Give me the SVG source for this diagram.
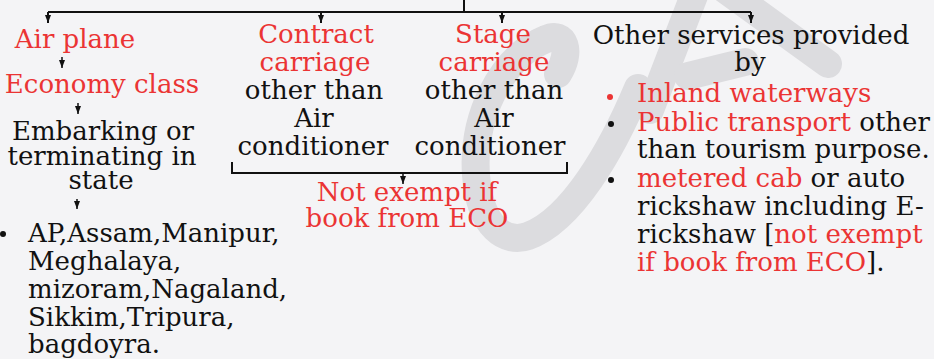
<svg xmlns="http://www.w3.org/2000/svg" width="934" height="359" viewBox="0 0 934 359">
<style>
text { font-family: "DejaVu Serif", "Liberation Serif", serif; font-size: 26px; fill: #111; }
.r { fill: #eb3434; }
.c { text-anchor: middle; }
.ln { stroke: #111; stroke-width: 2; fill: none; }
.sm { stroke: #111; stroke-width: 1.5; fill: none; }
.wm { stroke: #dcdcdf; stroke-width: 28; fill: none; stroke-linecap: round; stroke-linejoin: round; }
</style>
<defs>
<marker id="ah" viewBox="0 0 8 6" refX="8" refY="3" markerWidth="8" markerHeight="6" markerUnits="userSpaceOnUse" orient="auto">
<path d="M0,0 L8,3 L0,6 z" fill="#111"/>
</marker>
</defs>
<rect width="934" height="359" fill="#f4f4f6"/>
<g id="watermark">
<path class="wm" d="M558 74 C572 52 565 30 546 39 C500 58 472 118 476 175 C480 228 506 244 528 236 C572 220 612 150 638 88"/>
<path class="wm" d="M650 110 L700 -20"/>
<path class="wm" stroke-width="32" d="M712 -20 L828 64"/>
<path class="wm" stroke-width="14" d="M688 76 L745 62"/>
</g>
<g id="connectors">
<path class="ln" d="M464 0 V12 M48 12 H751"/>
<path class="ln" d="M48 12 V23" marker-end="url(#ah)"/>
<path class="ln" d="M321 12 V23" marker-end="url(#ah)"/>
<path class="ln" d="M502 12 V23" marker-end="url(#ah)"/>
<path class="ln" d="M751 12 V23" marker-end="url(#ah)"/>
<path class="sm" d="M62 57 V68" marker-end="url(#ah)"/>
<path class="sm" d="M78 103 V114" marker-end="url(#ah)"/>
<path class="sm" d="M77 199 V209" marker-end="url(#ah)"/>
<path class="ln" d="M232 162 V173 H567 V162"/>
<path class="sm" d="M403 173 V184" marker-end="url(#ah)"/>
</g>
<g id="air-plane"><text class="r c" x="75" y="48">Air plane</text></g>
<g id="economy-class"><text class="r c" x="102" y="93">Economy class</text></g>
<g id="embarking">
<text class="c" x="103" y="140">Embarking or</text>
<text class="c" x="102" y="165">terminating in</text>
<text class="c" x="101" y="189">state</text>
</g>
<g id="states">
<circle cx="3" cy="234" r="3" fill="#111"/>
<text x="28" y="242">AP,Assam,Manipur,</text>
<text x="28" y="270">Meghalaya,</text>
<text x="28" y="298">mizoram,Nagaland,</text>
<text x="28" y="326">Sikkim,Tripura,</text>
<text x="28" y="353">bagdoyra.</text>
</g>
<g id="contract-carriage">
<text class="r c" x="316" y="43">Contract</text>
<text class="r c" x="315" y="71">carriage</text>
<text class="c" x="314" y="99">other than</text>
<text class="c" x="314" y="127">Air</text>
<text class="c" x="313" y="155">conditioner</text>
</g>
<g id="stage-carriage">
<text class="r c" x="493" y="43">Stage</text>
<text class="r c" x="494" y="71">carriage</text>
<text class="c" x="494" y="99">other than</text>
<text class="c" x="494" y="127">Air</text>
<text class="c" x="490" y="155">conditioner</text>
</g>
<g id="not-exempt">
<text class="r c" x="407" y="201">Not exempt if</text>
<text class="r c" x="407" y="227">book from ECO</text>
</g>
<g id="other-services">
<text class="c" x="751" y="44">Other services provided</text>
<text class="c" x="750" y="71">by</text>
<circle cx="610" cy="97" r="3" fill="#eb3434"/>
<circle cx="611" cy="124" r="3" fill="#111"/>
<circle cx="611" cy="180" r="3" fill="#111"/>
<text class="r" x="637" y="102">Inland waterways</text>
<text x="637" y="131"><tspan class="r">Public transport</tspan> other</text>
<text x="637" y="158">than tourism purpose.</text>
<text x="637" y="187"><tspan class="r">metered cab</tspan> or auto</text>
<text x="637" y="215">rickshaw including E-</text>
<text x="637" y="243">rickshaw [<tspan class="r">not exempt</tspan></text>
<text x="637" y="271"><tspan class="r">if book from ECO</tspan>].</text>
</g>
</svg>
